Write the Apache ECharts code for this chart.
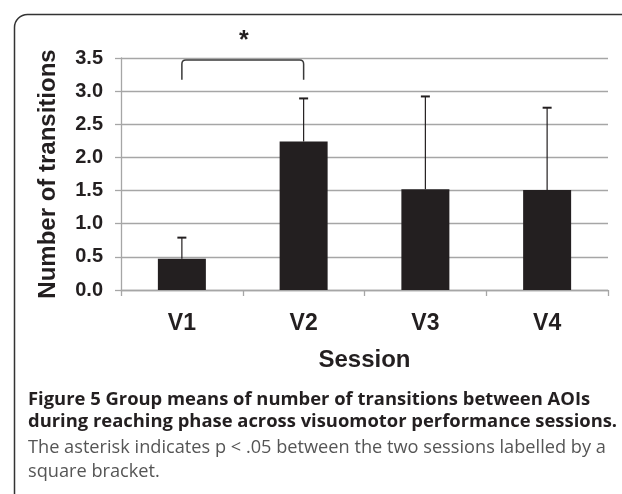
<!DOCTYPE html>
<html>
<head>
<meta charset="utf-8">
<script src="https://cdn.jsdelivr.net/npm/echarts@6/dist/echarts.min.js"></script>
<style>
  html, body { margin: 0; padding: 0; background: #fff; }
  #chart { width: 622px; height: 494px; }
</style>
</head>
<body>
<div id="chart"></div>
<script>
// session labels and group means
const sessions = ['V1', 'V2', 'V3', 'V4'];
const means = [0.47, 2.24, 1.52, 1.51];
// upper end of each error bar (mean + SD)
const errTops = [0.79, 2.89, 2.92, 2.75];
// significance bracket: from session index, to session index, top, end of legs
const bracket = [0, 1, 3.47, 3.17];
const starY = 3.76;

const ink = '#231f20';
const gridGray = '#a6a6a6';

const chart = echarts.init(document.getElementById('chart'));

const option = {
  backgroundColor: '#ffffff',
  animation: false,
  grid: { left: 121, right: 14, top: 58, bottom: 204 },
  xAxis: {
    type: 'category',
    data: sessions,
    name: 'Session',
    nameLocation: 'middle',
    nameGap: 58,
    nameTextStyle: { fontFamily: 'Liberation Sans', fontWeight: 'bold', fontSize: 24, color: ink },
    axisLine: { lineStyle: { color: gridGray, width: 1.3 } },
    axisTick: { show: true, length: 6, lineStyle: { color: gridGray, width: 1.3 } },
    axisLabel: { margin: 22, fontFamily: 'Liberation Sans', fontWeight: 'bold', fontSize: 23, color: ink }
  },
  yAxis: {
    type: 'value',
    min: 0,
    max: 3.5,
    interval: 0.5,
    name: 'Number of transitions',
    nameLocation: 'middle',
    nameRotate: 90,
    nameGap: 61,
    nameTextStyle: { fontFamily: 'Liberation Sans', fontWeight: 'bold', fontSize: 24, color: ink },
    axisLine: { show: true, lineStyle: { color: gridGray, width: 1.3 } },
    axisTick: { show: true, length: 6, lineStyle: { color: gridGray, width: 1.3 } },
    splitLine: { lineStyle: { color: gridGray, width: 1.3 } },
    axisLabel: {
      margin: 18,
      fontFamily: 'Liberation Sans', fontWeight: 'bold', fontSize: 20, color: ink,
      formatter: v => v.toFixed(1)
    }
  },
  series: [
    {
      type: 'bar',
      data: means,
      barWidth: 48,
      itemStyle: { color: ink }
    },
    {
      type: 'custom',
      data: means.map((m, i) => [i, m, errTops[i]]),
      z: 3,
      renderItem(params, api) {
        const base = api.coord([api.value(0), api.value(1)]);
        const top = api.coord([api.value(0), api.value(2)]);
        return {
          type: 'group',
          children: [
            { type: 'line', shape: { x1: base[0], y1: base[1], x2: top[0], y2: top[1] },
              style: { stroke: ink, lineWidth: 1.2 } },
            { type: 'line', shape: { x1: top[0] - 4.5, y1: top[1], x2: top[0] + 4.5, y2: top[1] },
              style: { stroke: ink, lineWidth: 2 } }
          ]
        };
      }
    },
    {
      type: 'custom',
      data: [bracket],
      z: 3,
      renderItem(params, api) {
        const a = api.coord([api.value(0), api.value(2)]);
        const b = api.coord([api.value(1), api.value(2)]);
        const legY = api.coord([api.value(0), api.value(3)])[1];
        const star = api.coord([(api.value(0) + api.value(1)) / 2, starY]);
        const r = 4;
        const d = 'M' + a[0] + ' ' + legY +
          ' L' + a[0] + ' ' + (a[1] + r) +
          ' Q' + a[0] + ' ' + a[1] + ' ' + (a[0] + r) + ' ' + a[1] +
          ' L' + (b[0] - r) + ' ' + b[1] +
          ' Q' + b[0] + ' ' + b[1] + ' ' + b[0] + ' ' + (b[1] + r) +
          ' L' + b[0] + ' ' + legY;
        return {
          type: 'group',
          children: [
            { type: 'path', shape: { pathData: d }, style: { stroke: '#3a3a3a', lineWidth: 1.5, fill: null } },
            { type: 'text', x: (a[0] + b[0]) / 2 + 1, y: star[1],
              style: { text: '*', fontFamily: 'Liberation Sans', fontWeight: 'bold', fontSize: 25, fill: ink,
                       align: 'center', verticalAlign: 'middle' } }
          ]
        };
      }
    }
  ],
  graphic: [
    { type: 'rect', left: 12, top: 12, silent: true,
      shape: { width: 700, height: 600, r: 13 },
      style: { fill: null, stroke: '#333', lineWidth: 1.5 } },
    { type: 'text', left: 28, top: 391,
      style: { text: 'Figure 5 Group means of number of transitions between AOIs',
               fontFamily: 'Open Sans', fontWeight: 'bold', fontSize: 18.4, fill: ink } },
    { type: 'text', left: 28, top: 413,
      style: { text: 'during reaching phase across visuomotor performance sessions.',
               fontFamily: 'Open Sans', fontWeight: 'bold', fontSize: 18.4, fill: ink } },
    { type: 'text', left: 28, top: 439,
      style: { text: 'The asterisk indicates p < .05 between the two sessions labelled by a',
               fontFamily: 'Open Sans', fontSize: 18.2, fill: '#555' } },
    { type: 'text', left: 28, top: 463,
      style: { text: 'square bracket.',
               fontFamily: 'Open Sans', fontSize: 18.2, fill: '#555' } }
  ]
};

chart.setOption(option);
</script>
</body>
</html>
